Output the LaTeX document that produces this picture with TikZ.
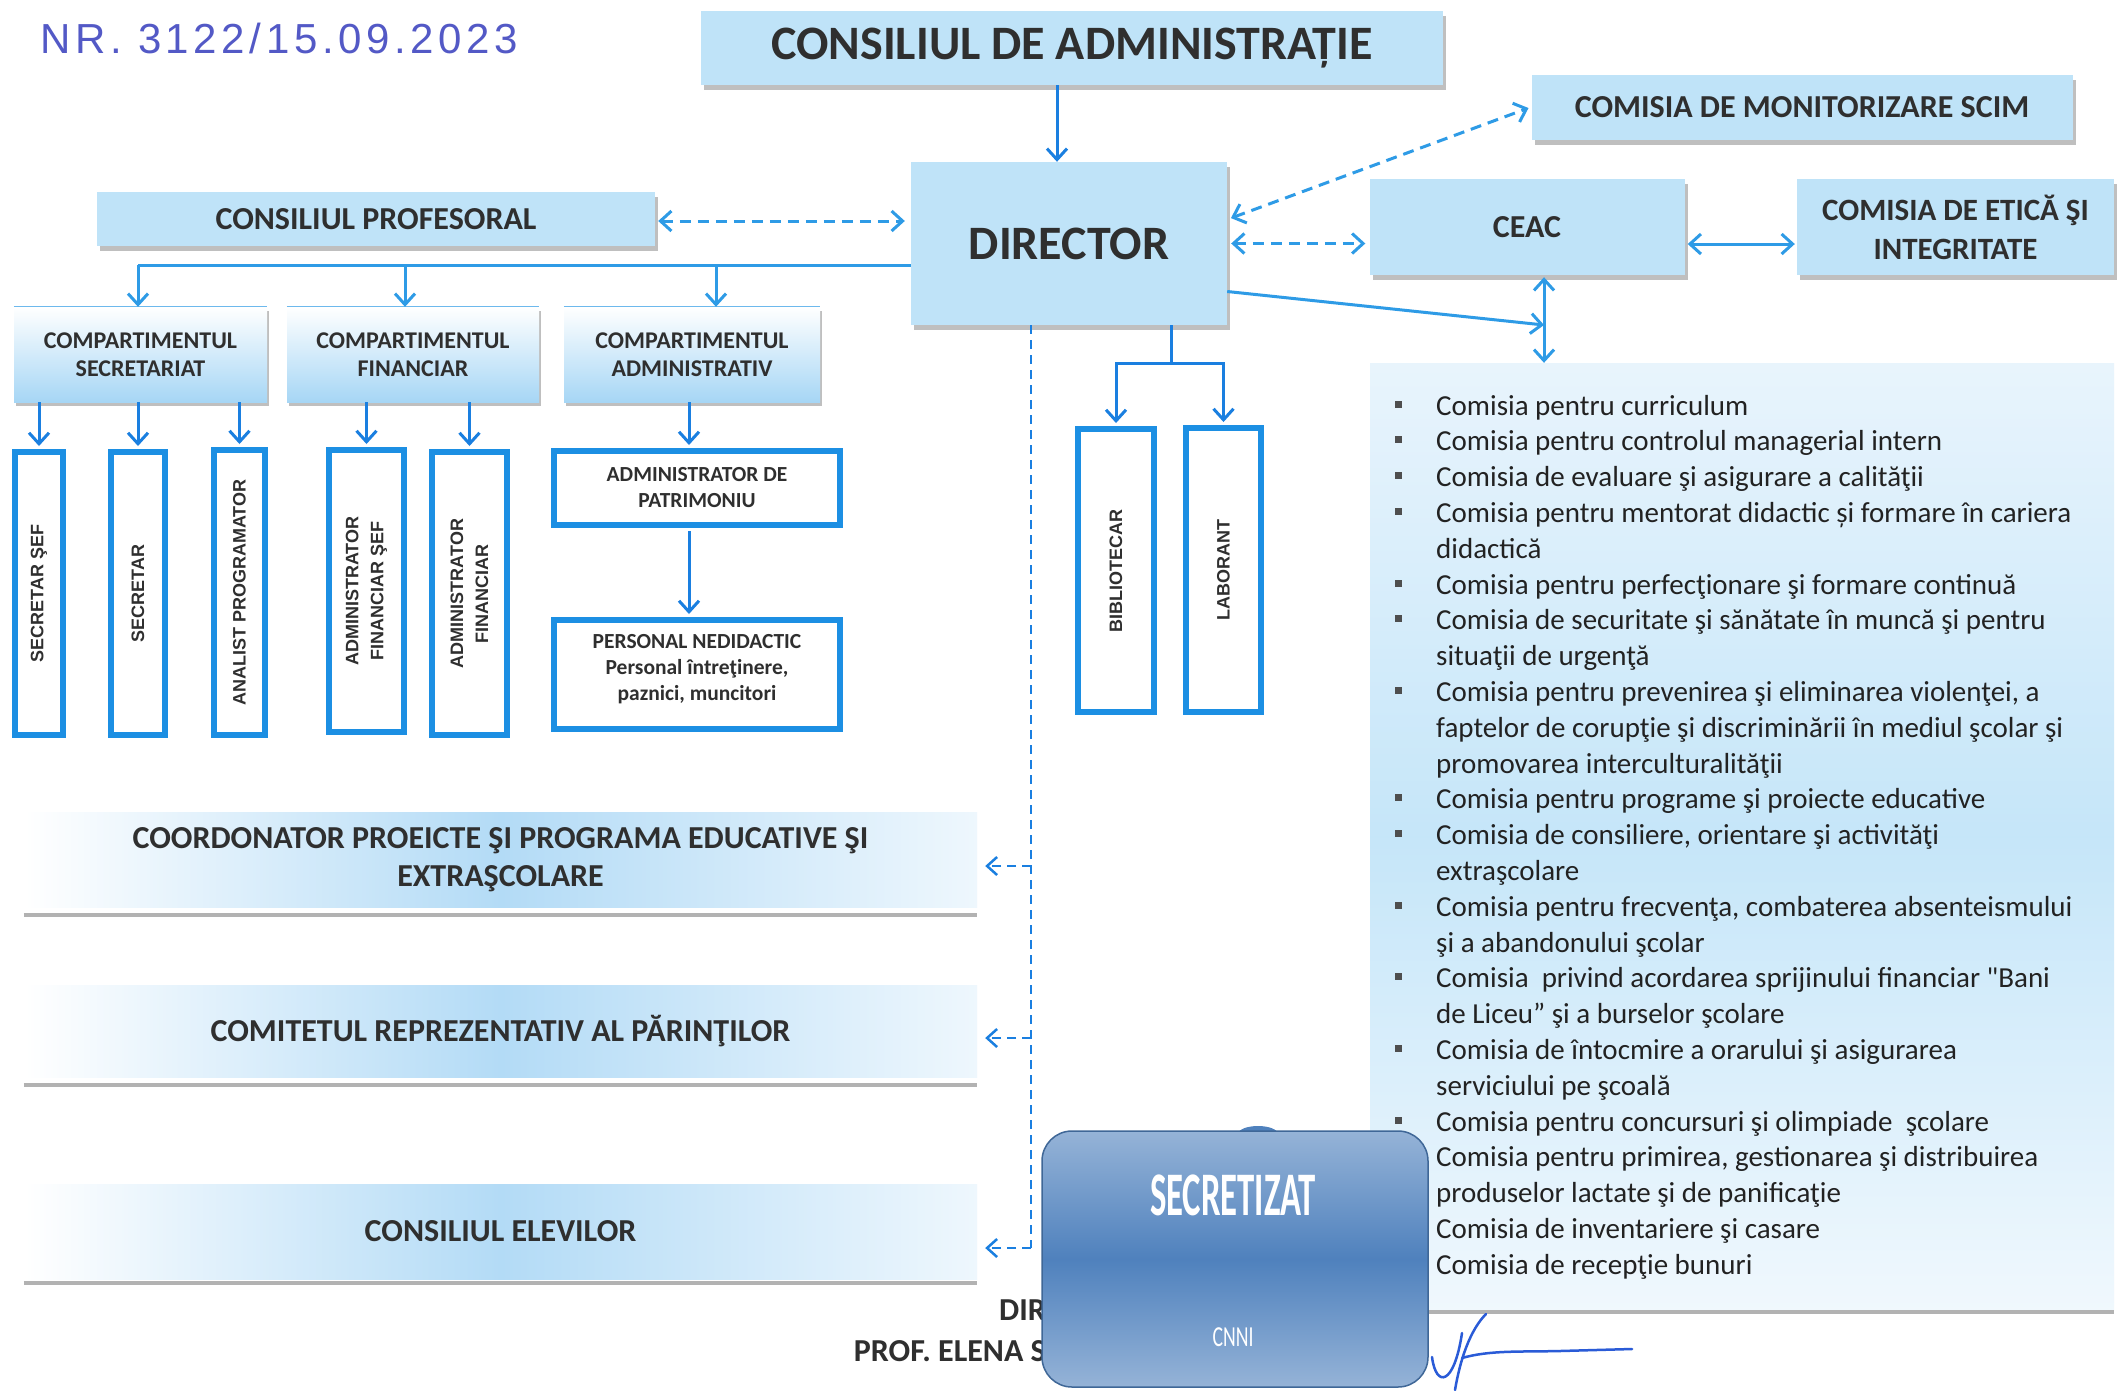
\documentclass[tikz,border=0pt]{standalone}
\usepackage{fontspec}
\setmainfont{Carlito}
\newfontfamily\listf{Carlito}
\newfontfamily\arialf{Liberation Sans}
\newfontfamily\handf{Liberation Sans}[LetterSpace=11]
\newfontfamily\condf{Carlito}[FakeStretch=0.56]
\newfontfamily\condg{Carlito}[FakeStretch=0.68]
\usetikzlibrary{arrows.meta,shadows,calc}
\definecolor{boxblue}{HTML}{BFE3F8}
\definecolor{txt}{HTML}{2F2F2F}
\definecolor{listcol}{HTML}{222222}
\definecolor{cblue}{HTML}{1A7FE0}
\definecolor{lblue}{HTML}{2E9BE6}
\definecolor{vblue}{HTML}{1C8FE3}
\definecolor{hand}{HTML}{5359C6}
\definecolor{secmid}{HTML}{4F81BD}
\definecolor{sectop}{HTML}{95B3D7}
\definecolor{compbot}{HTML}{A6D6F5}
\definecolor{bandmid}{HTML}{B3DBF6}
\definecolor{bandr}{HTML}{EEF7FD}
\definecolor{sigblue}{HTML}{2A5BD7}
\tikzset{
  titlebox/.style={fill=boxblue, inner sep=0pt, text=txt, align=center,
    drop shadow={shadow xshift=3pt, shadow yshift=-5pt, fill=black!55, opacity=0.45}},
  compbox/.style={top color=white, bottom color=compbot, inner sep=0pt, text=txt, align=center,
    font=\bfseries\fontsize{24}{28}\selectfont,
    drop shadow={shadow xshift=2pt, shadow yshift=-4pt, fill=black!55, opacity=0.45}},
  vbox/.style={draw=vblue, line width=6pt, fill=white, inner sep=0pt},
  vtext/.style={rotate=90, font=\arialf\bfseries\fontsize{18}{25}\selectfont, text=txt, align=center, inner sep=0pt},
  htext/.style={font=\bfseries\fontsize{21.5}{26}\selectfont, text=txt, align=center, inner sep=0pt},
  band/.style={left color=white, right color=bandr, middle color=bandmid, inner sep=0pt,
    minimum width=953pt, text=txt, align=center, font=\bfseries\fontsize{32}{38}\selectfont},
  bandline/.style={draw=black!30, line width=4pt},
  arr/.style={draw=cblue, line width=3pt, -{Straight Barb[length=11pt,width=20pt]}},
  larr/.style={draw=lblue, line width=3pt, {Straight Barb[length=11pt,width=20pt]}-{Straight Barb[length=11pt,width=20pt]}},
  plain/.style={draw=lblue, line width=3pt},
  dashl/.style={draw=lblue, line width=3pt, dash pattern=on 11pt off 7pt},
  dboth/.style={dashl, {Straight Barb[length=11pt,width=20pt]}-{Straight Barb[length=11pt,width=20pt]}},
  dleft/.style={draw=cblue, line width=2.5pt, dash pattern=on 9pt off 6pt, -{Straight Barb[length=10pt,width=18pt]}},
  listtxt/.style={anchor=base west, inner sep=0pt, text=listcol, font=\listf\fontsize{29}{35.8}\selectfont},
  bul/.style={fill=listcol!80, minimum size=7pt, inner sep=0pt},
  sig/.style={draw=sigblue, line width=2.5pt, line cap=round},
}
\newcommand\lline[2]{\node[listtxt] (l#1) at (1436,{415+35.8*#1}) {#2};}
\newcommand\lbul[1]{\node[bul] (b#1) at (1398,{404+35.8*#1}) {};}
\begin{document}
\begin{tikzpicture}[x=1pt,y=-1pt]
\fill[white] (0,0) rectangle (2122,1390);
\useasboundingbox (0,0) rectangle (2122,1390);

% handwritten number
\node[anchor=west, text=hand, inner sep=0pt, font=\handf\fontsize{42}{42}\selectfont] (nr) at (40,38) {NR. 3122/15.09.2023};

% list box (background)
\node[top color=white!70!bandmid, bottom color=white!80!bandmid, middle color=boxblue!90, inner sep=0pt,
  minimum width=744pt, minimum height=947pt] (list) at (1742,836.5) {};
\draw[bandline] ([yshift=-2pt]list.south west) -- ([yshift=-2pt]list.south east);

% top boxes
\node[titlebox, minimum width=742pt, minimum height=74pt, font=\bfseries\fontsize{48}{50}\selectfont] (cda) at (1072,48) {CONSILIUL DE ADMINISTRAȚIE};
\node[titlebox, minimum width=316pt, minimum height=163pt, font=\bfseries\fontsize{48}{50}\selectfont] (dir) at (1069,243.5) {DIRECTOR};
\node[titlebox, minimum width=541pt, minimum height=65pt, font=\bfseries\fontsize{32}{36}\selectfont] (scim) at (1802,107) {COMISIA DE MONITORIZARE SCIM};
\node[titlebox, minimum width=315pt, minimum height=96pt, font=\bfseries\fontsize{32}{36}\selectfont] (ceac) at (1527,227) {CEAC};
\node[titlebox, minimum width=317pt, minimum height=96pt, font=\bfseries\fontsize{31}{39}\selectfont] (etica) at (1955.5,227) {COMISIA DE ETICĂ ŞI\\INTEGRITATE};
\node[titlebox, minimum width=558pt, minimum height=54pt, font=\bfseries\fontsize{32}{36}\selectfont] (cp) at (376,219) {CONSILIUL PROFESORAL};

% compartments
\node[compbox, minimum width=253pt, minimum height=95pt] (csec) at (140.5,354.5) {COMPARTIMENTUL\\SECRETARIAT};
\node[compbox, minimum width=252pt, minimum height=95pt] (cfin) at (413,354.5) {COMPARTIMENTUL\\FINANCIAR};
\node[compbox, minimum width=256pt, minimum height=95pt] (cadm) at (692,354.5) {COMPARTIMENTUL\\ADMINISTRATIV};
\draw[draw=lblue!70, line width=1.2pt] (csec.north west) -- (csec.north east);
\draw[draw=lblue!70, line width=1.2pt] (cfin.north west) -- (cfin.north east);
\draw[draw=lblue!70, line width=1.2pt] (cadm.north west) -- (cadm.north east);

% vertical boxes
\node[vbox, minimum width=48pt, minimum height=283pt] (ssef) at (39,593.5) {};
\node[vtext] (tssef) at (ssef.center) {SECRETAR ŞEF};
\node[vbox, minimum width=54pt, minimum height=283pt] (secr) at (138,593.5) {};
\node[vtext] (tsecr) at (secr.center) {SECRETAR};
\node[vbox, minimum width=51pt, minimum height=285pt] (anal) at (239.5,592.5) {};
\node[vtext] (tanal) at (anal.center) {ANALIST PROGRAMATOR};
\node[vbox, minimum width=75pt, minimum height=282pt] (afs) at (366.5,591) {};
\node[vtext] (tafs) at (afs.center) {ADMINISTRATOR\\FINANCIAR ŞEF};
\node[vbox, minimum width=75pt, minimum height=283pt] (af) at (469.5,593.5) {};
\node[vtext] (taf) at (af.center) {ADMINISTRATOR\\FINANCIAR};
\node[vbox, minimum width=286pt, minimum height=74pt] (patr) at (697,488) {};
\node[htext] (tpatr) at (patr.center) {ADMINISTRATOR DE\\PATRIMONIU};
\node[vbox, minimum width=286pt, minimum height=109pt] (pers) at (697,674.5) {};
\node[htext] (tpers) at ([yshift=5pt]pers.center) {PERSONAL NEDIDACTIC\\Personal întreţinere,\\paznici, muncitori};
\node[vbox, minimum width=76pt, minimum height=283pt] (bib) at (1116,570.5) {};
\node[vtext] (tbib) at (bib.center) {BIBLIOTECAR};
\node[vbox, minimum width=75pt, minimum height=284pt] (lab) at (1223.5,570) {};
\node[vtext] (tlab) at (lab.center) {LABORANT};

% bands
\node[band, minimum height=95pt] (coord) at (500.5,859.5) {COORDONATOR PROEICTE ŞI PROGRAMA EDUCATIVE ŞI\\EXTRAŞCOLARE};
\draw[bandline] ([yshift=-8pt]coord.south west) -- ([yshift=-8pt]coord.south east);
\node[band, minimum height=92pt] (comit) at (500.5,1031) {COMITETUL REPREZENTATIV AL PĂRINŢILOR};
\draw[bandline] ([yshift=-8pt]comit.south west) -- ([yshift=-8pt]comit.south east);
\node[band, minimum height=95pt] (elev) at (500.5,1231.5) {CONSILIUL ELEVILOR};
\draw[bandline] ([yshift=-4pt]elev.south west) -- ([yshift=-4pt]elev.south east);

% coordinates
\coordinate (a1) at (1057,0);
\coordinate (bus) at (138,265);
\coordinate (b2) at (405,265);
\coordinate (b3) at (716,265);
\coordinate (jn) at (1544,325);
\coordinate (st) at (1171,363);
\coordinate (dv) at (1031,0);
\coordinate (e1) at (1031,866);
\coordinate (e2) at (1031,1038);
\coordinate (e3) at (1031,1248);

% connectors
\draw[arr] (cda.south -| a1) -- (dir.north -| a1);
\draw[dboth, shorten <=3pt, shorten >=6pt] ([yshift=-2pt]cp.east) -- ([yshift=-2pt]cp.east -| dir.west);
\draw[dboth, shorten <=4pt, shorten >=3pt] ([yshift=24pt]dir.east) -- (scim.west);
\draw[dboth, shorten <=4pt, shorten >=4pt] (dir.east) -- (dir.east -| ceac.west);
\draw[larr, shorten <=3pt, shorten >=2pt] ([yshift=-17pt]ceac.east) -- ([yshift=-17pt]etica.west);
\draw[plain, -{Straight Barb[length=11pt,width=20pt]}] ([yshift=-48pt]dir.east) -- (jn);
\draw[larr, shorten <=2pt] (ceac.south -| jn) -- (list.north -| jn);

\draw[plain] (dir.west |- bus) -- (bus);
\draw[arr, draw=lblue] (bus) -- (bus |- csec.north);
\draw[arr, draw=lblue] (b2) -- (b2 |- cfin.north);
\draw[arr, draw=lblue] (b3) -- (b3 |- cadm.north);

\draw[arr] (ssef.north |- csec.south) -- ([yshift=3pt]ssef.north);
\draw[arr] (secr.north |- csec.south) -- ([yshift=3pt]secr.north);
\draw[arr] (anal.north |- csec.south) -- ([yshift=3pt]anal.north);
\draw[arr] (afs.north |- cfin.south) -- ([yshift=3pt]afs.north);
\draw[arr] (af.north |- cfin.south) -- ([yshift=3pt]af.north);
\draw[arr] ([xshift=-8pt]patr.north |- cadm.south) -- ([xshift=-8pt,yshift=3pt]patr.north);
\draw[arr] ([xshift=-8pt,yshift=-3pt]patr.south) -- ([xshift=-8pt,yshift=3pt]pers.north);

\draw[draw=cblue, line width=3pt] (dir.south -| st) -- (st);
\draw[arr] (st) -| ([yshift=3pt]bib.north);
\draw[arr] (st) -| ([yshift=3pt]lab.north);

\draw[dleft, -] (dir.south -| dv) -- (e3);
\draw[dleft, shorten >=8pt] (e1) -- (e1 -| coord.east);
\draw[dleft, shorten >=8pt] (e2) -- (e2 -| comit.east);
\draw[dleft, shorten >=8pt] (e3) -- (e3 -| elev.east);

% list
\lbul{0}\lline{0}{Comisia pentru curriculum}
\lbul{1}\lline{1}{Comisia pentru controlul managerial intern}
\lbul{2}\lline{2}{Comisia de evaluare şi asigurare a calităţii}
\lbul{3}\lline{3}{Comisia pentru mentorat didactic și formare în cariera}
\lline{4}{didactică}
\lbul{5}\lline{5}{Comisia pentru perfecţionare şi formare continuă}
\lbul{6}\lline{6}{Comisia de securitate şi sănătate în muncă şi pentru}
\lline{7}{situaţii de urgenţă}
\lbul{8}\lline{8}{Comisia pentru prevenirea şi eliminarea violenţei, a}
\lline{9}{faptelor de corupţie şi discriminării în mediul şcolar şi}
\lline{10}{promovarea interculturalităţii}
\lbul{11}\lline{11}{Comisia pentru programe şi proiecte educative}
\lbul{12}\lline{12}{Comisia de consiliere, orientare şi activităţi}
\lline{13}{extraşcolare}
\lbul{14}\lline{14}{Comisia pentru frecvenţa, combaterea absenteismului}
\lline{15}{şi a abandonului şcolar}
\lbul{16}\lline{16}{Comisia\ \ privind acordarea sprijinului financiar "Bani}
\lline{17}{de Liceu” şi a burselor şcolare}
\lbul{18}\lline{18}{Comisia de întocmire a orarului şi asigurarea}
\lline{19}{serviciului pe şcoală}
\lbul{20}\lline{20}{Comisia pentru concursuri şi olimpiade\ \ şcolare}
\lline{21}{Comisia pentru primirea, gestionarea şi distribuirea}
\lline{22}{produselor lactate şi de panificaţie}
\lline{23}{Comisia de inventariere şi casare}
\lline{24}{Comisia de recepţie bunuri}

% signature block
\node[anchor=east, inner sep=0pt, text=txt, font=\bfseries\fontsize{32}{32}\selectfont] (sdir) at (1046,1310) {DIR};
\node[anchor=east, inner sep=0pt, text=txt, font=\bfseries\fontsize{32}{32}\selectfont] (sprof) at (1046,1351) {PROF. ELENA S};
\draw[sig] (1432,1357) .. controls (1436,1388) and (1454,1386) .. (1462,1333);
\draw[sig] (1455,1390) .. controls (1460,1360) and (1470,1330) .. (1486,1314);
\draw[sig] (1462,1358) .. controls (1490,1350) and (1520,1352) .. (1560,1351) -- (1632,1349);

% secretizat
\fill[secmid] (1258,1134) ellipse (20 and 8);
\node[draw=secmid!80!black, line width=1.5pt, rounded corners=30pt, top color=sectop, bottom color=sectop, middle color=secmid,
  minimum width=386pt, minimum height=256pt, inner sep=0pt] (secz) at (1235,1259) {};
\node[text=white, inner sep=0pt, font=\condf\bfseries\fontsize{62}{62}\selectfont] (sezt) at (1233,1195) {SECRETIZAT};
\node[text=white, inner sep=0pt, font=\condg\fontsize{29}{29}\selectfont] (sezc) at (1233,1337) {CNNI};
\end{tikzpicture}
\end{document}
